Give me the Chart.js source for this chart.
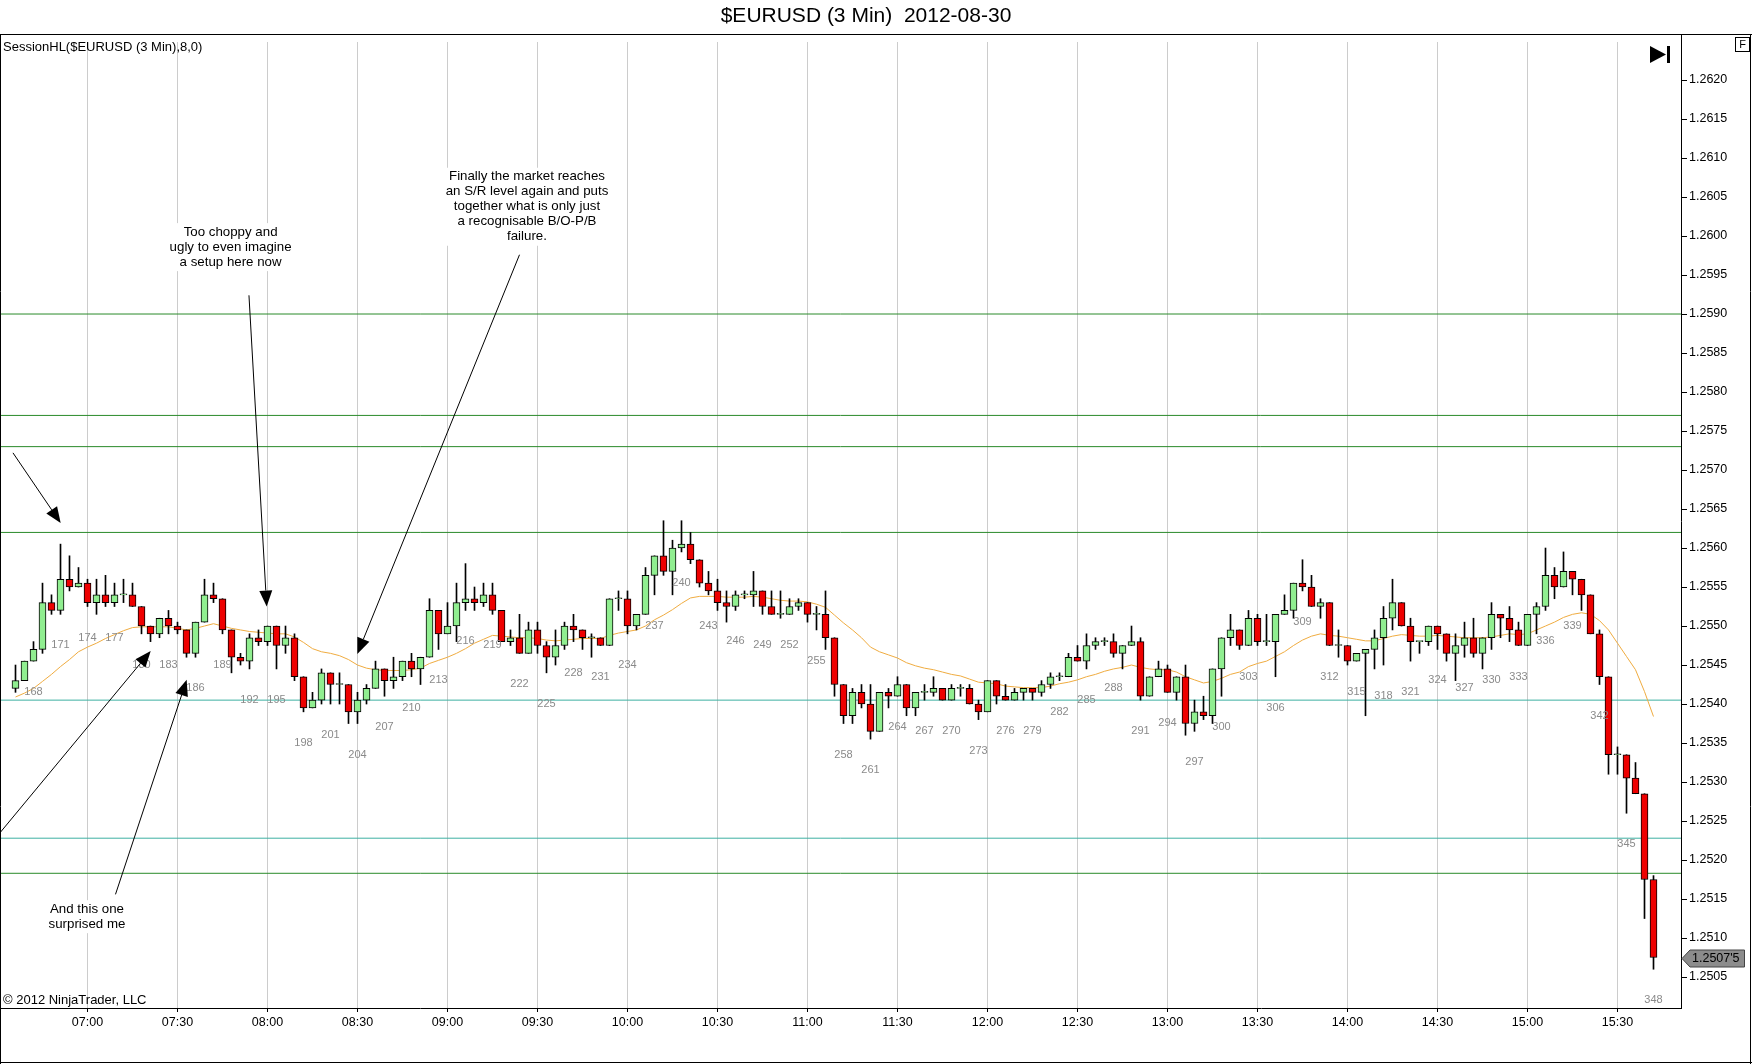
<!DOCTYPE html>
<html>
<head>
<meta charset="utf-8">
<title>$EURUSD (3 Min) 2012-08-30</title>
<script src="https://cdn.jsdelivr.net/npm/chart.js@4.4.1/dist/chart.umd.min.js"></script>
<style>
html,body{margin:0;padding:0;background:#fff;overflow:hidden;}
#wrap{width:1752px;height:1064px;position:relative;}
canvas{display:block;}
</style>
</head>
<body>
<div id="wrap"><canvas id="c" width="1752" height="1064"></canvas></div>
<script>
// ---------------- DATA ----------------
const firstBar = 166;
const opens = [
1.25420,1.25430,1.25455,1.25470,1.25530,1.25520,1.25560,1.25550,1.25555,1.25530,
1.25540,1.25530,1.25540,1.25540,1.25525,1.25500,1.25490,1.25510,1.25500,1.25495,
1.25465,1.25505,1.25540,1.25535,1.25495,1.25460,1.25455,1.25485,1.25480,1.25500,
1.25475,1.25485,1.25435,1.25395,1.25405,1.25440,1.25425,1.25425,1.25390,1.25405,
1.25420,1.25445,1.25430,1.25435,1.25455,1.25445,1.25460,1.25520,1.25490,1.25500,
1.25530,1.25535,1.25530,1.25540,1.25520,1.25480,1.25485,1.25465,1.25495,1.25475,
1.25460,1.25475,1.25500,1.25495,1.25485,1.25485,1.25475,1.25535,1.25535,1.25500,
1.25515,1.25565,1.25590,1.25570,1.25600,1.25605,1.25585,1.25555,1.25545,1.25530,
1.25525,1.25540,1.25540,1.25545,1.25525,1.25515,1.25515,1.25525,1.25530,1.25515,
1.25515,1.25485,1.25425,1.25385,1.25415,1.25400,1.25365,1.25415,1.25410,1.25425,
1.25395,1.25415,1.25415,1.25420,1.25405,1.25420,1.25420,1.25400,1.25390,1.25430,
1.25410,1.25405,1.25415,1.25420,1.25415,1.25425,1.25435,1.25435,1.25460,1.25455,
1.25475,1.25480,1.25480,1.25465,1.25475,1.25480,1.25410,1.25435,1.25445,1.25415,
1.25435,1.25375,1.25390,1.25385,1.25445,1.25485,1.25495,1.25475,1.25510,1.25480,
1.25480,1.25515,1.25520,1.25555,1.25550,1.25525,1.25530,1.25475,1.25475,1.25455,
1.25465,1.25470,1.25485,1.25510,1.25530,1.25500,1.25480,1.25480,1.25500,1.25490,
1.25465,1.25475,1.25485,1.25465,1.25485,1.25515,1.25510,1.25495,1.25475,1.25515,
1.25525,1.25565,1.25550,1.25570,1.25560,1.25540,1.25490,1.25435,1.25335,1.25335,
1.25305,1.25285,1.25175];
const highs = [
1.25450,1.25455,1.25480,1.25555,1.25540,1.25605,1.25590,1.25575,1.25560,1.25560,
1.25565,1.25555,1.25560,1.25555,1.25525,1.25500,1.25510,1.25520,1.25505,1.25495,
1.25505,1.25560,1.25555,1.25535,1.25495,1.25465,1.25490,1.25495,1.25500,1.25500,
1.25500,1.25490,1.25435,1.25415,1.25445,1.25440,1.25440,1.25425,1.25415,1.25425,
1.25455,1.25445,1.25460,1.25455,1.25465,1.25460,1.25535,1.25520,1.25530,1.25555,
1.25580,1.25550,1.25555,1.25555,1.25520,1.25495,1.25515,1.25505,1.25505,1.25480,
1.25495,1.25505,1.25515,1.25495,1.25490,1.25485,1.25535,1.25545,1.25545,1.25515,
1.25575,1.25590,1.25635,1.25610,1.25635,1.25620,1.25585,1.25570,1.25560,1.25545,
1.25545,1.25545,1.25570,1.25545,1.25545,1.25545,1.25535,1.25535,1.25530,1.25525,
1.25545,1.25485,1.25425,1.25420,1.25425,1.25425,1.25415,1.25420,1.25435,1.25425,
1.25415,1.25425,1.25435,1.25420,1.25425,1.25425,1.25425,1.25405,1.25430,1.25430,
1.25425,1.25420,1.25420,1.25420,1.25430,1.25440,1.25440,1.25465,1.25475,1.25490,
1.25485,1.25485,1.25490,1.25475,1.25500,1.25485,1.25435,1.25455,1.25450,1.25435,
1.25450,1.25405,1.25410,1.25445,1.25485,1.25515,1.25495,1.25520,1.25515,1.25515,
1.25515,1.25540,1.25555,1.25585,1.25565,1.25535,1.25530,1.25495,1.25475,1.25465,
1.25470,1.25495,1.25525,1.25560,1.25530,1.25510,1.25480,1.25500,1.25500,1.25490,
1.25490,1.25505,1.25510,1.25485,1.25530,1.25515,1.25525,1.25505,1.25515,1.25530,
1.25600,1.25575,1.25595,1.25570,1.25560,1.25540,1.25495,1.25435,1.25345,1.25335,
1.25325,1.25285,1.25180];
const lows = [
1.25415,1.25430,1.25455,1.25465,1.25515,1.25515,1.25545,1.25550,1.25525,1.25515,
1.25525,1.25525,1.25530,1.25525,1.25490,1.25480,1.25485,1.25490,1.25490,1.25460,
1.25460,1.25505,1.25530,1.25490,1.25440,1.25450,1.25445,1.25475,1.25475,1.25445,
1.25465,1.25430,1.25390,1.25395,1.25400,1.25400,1.25400,1.25375,1.25375,1.25400,
1.25420,1.25410,1.25420,1.25430,1.25435,1.25425,1.25460,1.25470,1.25490,1.25480,
1.25520,1.25520,1.25525,1.25515,1.25480,1.25475,1.25465,1.25465,1.25465,1.25440,
1.25450,1.25470,1.25480,1.25470,1.25460,1.25475,1.25475,1.25520,1.25490,1.25495,
1.25515,1.25540,1.25565,1.25540,1.25595,1.25580,1.25550,1.25540,1.25520,1.25505,
1.25520,1.25535,1.25525,1.25515,1.25515,1.25510,1.25515,1.25520,1.25505,1.25495,
1.25470,1.25410,1.25375,1.25375,1.25395,1.25355,1.25365,1.25395,1.25410,1.25385,
1.25385,1.25405,1.25410,1.25405,1.25405,1.25410,1.25400,1.25380,1.25390,1.25400,
1.25405,1.25405,1.25405,1.25405,1.25410,1.25420,1.25430,1.25435,1.25455,1.25445,
1.25470,1.25475,1.25460,1.25445,1.25475,1.25405,1.25410,1.25435,1.25415,1.25405,
1.25360,1.25365,1.25380,1.25375,1.25410,1.25475,1.25470,1.25475,1.25475,1.25475,
1.25435,1.25515,1.25510,1.25545,1.25525,1.25510,1.25475,1.25460,1.25450,1.25455,
1.25385,1.25445,1.25450,1.25495,1.25500,1.25455,1.25465,1.25475,1.25470,1.25455,
1.25430,1.25460,1.25460,1.25445,1.25470,1.25485,1.25480,1.25475,1.25475,1.25490,
1.25520,1.25535,1.25550,1.25540,1.25520,1.25490,1.25425,1.25310,1.25310,1.25260,
1.25285,1.25125,1.25060];
const closes = [
1.25430,1.25455,1.25470,1.25530,1.25520,1.25560,1.25550,1.25555,1.25530,1.25540,
1.25530,1.25540,1.25540,1.25525,1.25500,1.25490,1.25510,1.25500,1.25495,1.25465,
1.25505,1.25540,1.25535,1.25495,1.25460,1.25455,1.25485,1.25480,1.25500,1.25475,
1.25485,1.25435,1.25395,1.25405,1.25440,1.25425,1.25425,1.25390,1.25405,1.25420,
1.25445,1.25430,1.25435,1.25455,1.25445,1.25460,1.25520,1.25490,1.25500,1.25530,
1.25535,1.25530,1.25540,1.25520,1.25480,1.25485,1.25465,1.25495,1.25475,1.25460,
1.25475,1.25500,1.25495,1.25485,1.25485,1.25475,1.25535,1.25535,1.25500,1.25515,
1.25565,1.25590,1.25570,1.25600,1.25605,1.25585,1.25555,1.25545,1.25530,1.25525,
1.25540,1.25540,1.25545,1.25525,1.25515,1.25515,1.25525,1.25530,1.25515,1.25515,
1.25485,1.25425,1.25385,1.25415,1.25400,1.25365,1.25415,1.25410,1.25425,1.25395,
1.25415,1.25415,1.25420,1.25405,1.25420,1.25420,1.25400,1.25390,1.25430,1.25410,
1.25405,1.25415,1.25420,1.25415,1.25425,1.25435,1.25435,1.25460,1.25455,1.25475,
1.25480,1.25480,1.25465,1.25475,1.25480,1.25410,1.25435,1.25445,1.25415,1.25435,
1.25375,1.25390,1.25385,1.25445,1.25485,1.25495,1.25475,1.25510,1.25480,1.25480,
1.25515,1.25520,1.25555,1.25550,1.25525,1.25530,1.25475,1.25475,1.25455,1.25465,
1.25470,1.25485,1.25510,1.25530,1.25500,1.25480,1.25480,1.25500,1.25490,1.25465,
1.25475,1.25485,1.25465,1.25485,1.25515,1.25510,1.25495,1.25475,1.25515,1.25525,
1.25565,1.25550,1.25570,1.25560,1.25540,1.25490,1.25435,1.25335,1.25335,1.25305,
1.25285,1.25175,1.25075];
const maValues = [
1.25409,1.25414,1.25420,1.25429,1.25438,1.25448,1.25457,1.25467,1.25473,1.25478,
1.25484,1.25489,1.25494,1.25498,1.25499,1.25499,1.25499,1.25499,1.25497,1.25495,
1.25497,1.25500,1.25503,1.25500,1.25497,1.25495,1.25493,1.25492,1.25491,1.25490,
1.25490,1.25486,1.25479,1.25471,1.25467,1.25465,1.25462,1.25457,1.25450,1.25446,
1.25444,1.25443,1.25443,1.25443,1.25444,1.25446,1.25452,1.25456,1.25460,1.25465,
1.25471,1.25478,1.25483,1.25488,1.25487,1.25486,1.25485,1.25485,1.25484,1.25482,
1.25481,1.25482,1.25483,1.25484,1.25484,1.25484,1.25488,1.25491,1.25493,1.25495,
1.25500,1.25508,1.25514,1.25521,1.25529,1.25536,1.25538,1.25538,1.25538,1.25537,
1.25537,1.25537,1.25538,1.25537,1.25535,1.25533,1.25532,1.25532,1.25531,1.25528,
1.25524,1.25514,1.25504,1.25495,1.25485,1.25473,1.25467,1.25463,1.25459,1.25453,
1.25449,1.25446,1.25444,1.25441,1.25438,1.25436,1.25432,1.25428,1.25427,1.25426,
1.25423,1.25422,1.25421,1.25421,1.25421,1.25423,1.25426,1.25428,1.25431,1.25435,
1.25438,1.25442,1.25445,1.25447,1.25450,1.25447,1.25445,1.25444,1.25444,1.25441,
1.25435,1.25431,1.25427,1.25429,1.25433,1.25438,1.25441,1.25448,1.25452,1.25455,
1.25461,1.25467,1.25475,1.25482,1.25487,1.25490,1.25488,1.25487,1.25485,1.25483,
1.25481,1.25481,1.25484,1.25487,1.25489,1.25488,1.25487,1.25487,1.25488,1.25487,
1.25486,1.25485,1.25485,1.25485,1.25486,1.25488,1.25490,1.25489,1.25490,1.25495,
1.25500,1.25505,1.25511,1.25515,1.25517,1.25515,1.25507,1.25495,1.25478,1.25461,
1.25444,1.25416,1.25384];
const barNumbers = opens.map((_, i) => firstBar + i);

const timeTickBars = [174,184,194,204,214,224,234,244,254,264,274,284,294,304,314,324,334,344];
const timeLabels = ['07:00','07:30','08:00','08:30','09:00','09:30','10:00','10:30','11:00',
                    '11:30','12:00','12:30','13:00','13:30','14:00','14:30','15:00','15:30'];
const priceTicks = [1.2505,1.2510,1.2515,1.2520,1.2525,1.2530,1.2535,1.2540,1.2545,1.2550,1.2555,1.2560,
                    1.2565,1.2570,1.2575,1.2580,1.2585,1.2590,1.2595,1.2600,1.2605,1.2610,1.2615,1.2620];
const greenLevels = [1.2590, 1.2577, 1.2573, 1.2562, 1.25183];
const tealLevels = [1.25405, 1.25228];

// annotations in data coordinates (bar, price)
const arrows = [
  {from:[165.72,1.25722], to:[171.02,1.25632]},
  {from:[164.28,1.25235], to:[181.02,1.25468]},
  {from:[177.11,1.25156], to:[185.02,1.25431]},
  {from:[191.94,1.25924], to:[193.91,1.25525]},
  {from:[222.00,1.25976], to:[203.98,1.25464]}
];
const notes = [
  {at:[189.90,1.26005], lines:['Too choppy and','ugly to even imagine','a setup here now']},
  {at:[222.83,1.26076], lines:['Finally the market reaches','an S/R level again and puts','together what is only just','a recognisable B/O-P/B','failure.']},
  {at:[173.94,1.25137], lines:['And this one','surprised me']}
];

// axis bounds
const xMin = 164.2778, xMax = 351.0556;
const yMin = 1.250103, yMax = 1.262590;

// ---------------- STYLE ----------------
const FONT = '"Liberation Sans", Arial, sans-serif';
const UP = '#90EE90', DOWN = '#EE0000';
Chart.defaults.font.family = FONT;

const levelSets = [];
greenLevels.forEach(v => levelSets.push({type:'line', data:[{x:xMin,y:v},{x:xMax,y:v}], borderColor:'#2A8A2A', borderWidth:1, pointRadius:0, order:6}));
tealLevels.forEach(v => levelSets.push({type:'line', data:[{x:xMin,y:v},{x:xMax,y:v}], borderColor:'#3DB0A2', borderWidth:1, pointRadius:0, order:6}));

const decor = {
  id:'decor',
  beforeDraw(chart){
    const c = chart.ctx;
    c.save(); c.fillStyle = '#fff'; c.fillRect(0,0,chart.width,chart.height); c.restore();
  },
  beforeDatasetsDraw(chart){
    const c = chart.ctx, a = chart.chartArea;
    c.save(); c.fillStyle = '#fff'; c.fillRect(a.left+1, a.top+1, a.right-a.left-2, 7); c.restore();
  },
  afterDraw(chart){
    const c = chart.ctx, xs = chart.scales.x, ys = chart.scales.y, a = chart.chartArea;
    const px = v => xs.getPixelForValue(v), py = v => ys.getPixelForValue(v);
    c.save();
    // bar numbers
    c.font = '11px ' + FONT; c.fillStyle = '#8a8a8a'; c.textAlign = 'center'; c.textBaseline = 'middle';
    barNumbers.forEach((n,i) => { if (n % 3 === 0) c.fillText(String(n), px(n), py(lows[i]) + 31); });

    // notes
    c.font = '13.3px ' + FONT; c.fillStyle = '#000';
    notes.forEach(nt => {
      const cx = px(nt.at[0]), cy = py(nt.at[1]), lh = 15;
      let w = 0; nt.lines.forEach(l => { w = Math.max(w, c.measureText(l).width); });
      c.fillStyle = '#fff';
      c.fillRect(cx - w/2 - 3, cy - 9, w + 6, lh*(nt.lines.length-1) + 18);
      c.fillStyle = '#000';
      nt.lines.forEach((l,k) => c.fillText(l, cx, cy + k*lh));
    });

    // arrows
    c.strokeStyle = '#000'; c.fillStyle = '#000'; c.lineWidth = 1;
    arrows.forEach(ar => {
      const x1 = px(ar.from[0]), y1 = py(ar.from[1]), x2 = px(ar.to[0]), y2 = py(ar.to[1]);
      const ang = Math.atan2(y2-y1, x2-x1), L = 16, W = 6.5;
      const bx = x2 - L*Math.cos(ang), by = y2 - L*Math.sin(ang);
      c.beginPath(); c.moveTo(x1,y1); c.lineTo(bx,by); c.stroke();
      c.beginPath(); c.moveTo(x2,y2);
      c.lineTo(bx + W*Math.sin(ang), by - W*Math.cos(ang));
      c.lineTo(bx - W*Math.sin(ang), by + W*Math.cos(ang));
      c.closePath(); c.fill();
    });

    // title & texts
    c.textAlign = 'center'; c.textBaseline = 'middle'; c.fillStyle = '#000';
    c.font = '21px ' + FONT;
    c.fillText('$EURUSD (3 Min)  2012-08-30', 866, 16);
    c.textAlign = 'left';
    c.font = '13px ' + FONT;
    c.fillText('SessionHL($EURUSD (3 Min),8,0)', 3, 47);
    c.fillText('\u00A9 2012 NinjaTrader, LLC', 3, 1000);

    // frame
    c.beginPath();
    c.moveTo(0, 34.5); c.lineTo(1752, 34.5);
    c.moveTo(0.5, 34); c.lineTo(0.5, 1064);
    c.moveTo(1750.5, 34); c.lineTo(1750.5, 1064);
    c.moveTo(0, 1062.5); c.lineTo(1752, 1062.5);
    c.stroke();

    // F box
    c.strokeRect(1735.5, 37.5, 14, 14);
    c.font = '11px ' + FONT; c.textAlign = 'center';
    c.fillText('F', 1742.5, 45);

    // go-to-end icon
    c.beginPath(); c.moveTo(1650, 46); c.lineTo(1666, 54.5); c.lineTo(1650, 63); c.closePath(); c.fill();
    c.fillRect(1667, 46, 3, 17);

    // last price tag
    const last = closes[closes.length-1];
    const ty = Math.round(py(last)) + 0.5;
    c.beginPath();
    c.moveTo(a.right + 1, ty);
    c.lineTo(a.right + 9, ty - 8.5);
    c.lineTo(1744.5, ty - 8.5);
    c.lineTo(1744.5, ty + 8.5);
    c.lineTo(a.right + 9, ty + 8.5);
    c.closePath();
    c.fillStyle = '#8c8c8c'; c.fill(); c.strokeStyle = '#444'; c.stroke();
    const s = last.toFixed(5);
    c.fillStyle = '#000'; c.font = '12.5px ' + FONT; c.textAlign = 'left';
    c.fillText(s.slice(0, -1) + "'" + s.slice(-1), a.right + 11, ty);
    c.restore();
  }
};

new Chart(document.getElementById('c'), {
  type: 'bar',
  data: {
    datasets: [
      {type:'line', label:'MA', data: barNumbers.map((n,i)=>({x:n, y:maValues[i]})),
       borderColor:'#F0AC40', borderWidth:1, pointRadius:0, tension:0, order:4},
      {type:'bar', label:'body', data: barNumbers.map((n,i)=>({x:n, y:[opens[i], closes[i]]})),
       barThickness:7, minBarLength:1, grouped:false, borderSkipped:false, borderWidth:1, borderColor:'#000',
       backgroundColor: ctx => (closes[ctx.dataIndex] >= opens[ctx.dataIndex] ? UP : DOWN), order:2},
      {type:'bar', label:'wick', data: barNumbers.map((n,i)=>({x:n, y:[lows[i], highs[i]]})),
       barThickness:1, grouped:false, borderSkipped:false, borderWidth:0, backgroundColor:'#000', order:3},
      ...levelSets
    ]
  },
  options: {
    responsive:false, animation:false, devicePixelRatio:1,
    layout:{padding:{top:34, left:0, right:0, bottom:0}},
    plugins:{legend:{display:false}, tooltip:{enabled:false}, title:{display:false}},
    scales:{
      x:{type:'linear', position:'bottom', min:xMin, max:xMax, offset:false,
         afterFit(s){ s.height = 56; },
         afterBuildTicks(s){ s.ticks = timeTickBars.map(v => ({value:v})); },
         ticks:{autoSkip:false, maxRotation:0, padding:3, color:'#000', font:{size:12.5},
                callback:(v)=>{ const k = timeTickBars.indexOf(v); return k >= 0 ? timeLabels[k] : ''; }},
         grid:{offset:false, color:'#cccccc', lineWidth:1, drawTicks:true, tickLength:4, tickColor:'#000'},
         border:{display:true, color:'#000', width:1}},
      y:{type:'linear', position:'right', min:yMin, max:yMax,
         afterFit(s){ s.width = 71; },
         afterBuildTicks(s){ s.ticks = priceTicks.map(v => ({value:v})); },
         ticks:{autoSkip:false, padding:2, color:'#000', font:{size:12.5}, callback:(v)=>Number(v).toFixed(4)},
         grid:{drawOnChartArea:false, drawTicks:true, tickLength:6, tickColor:'#000'},
         border:{display:true, color:'#000', width:1}}
    }
  },
  plugins:[decor]
});
</script>
</body>
</html>
